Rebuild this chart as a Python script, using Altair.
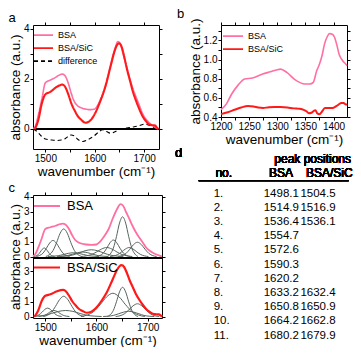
import altair as alt
import pandas as pd

FONT = "Liberation Sans"
PINK = "#ff6fa3"
RED = "#ff1a1a"
GRAY = "#56655d"

# ---------------- panel a : spectra ----------------
a_bsa_x = [1476, 1480, 1486, 1493, 1500, 1510, 1520, 1528, 1534, 1540, 1546, 1552, 1558, 1565, 1572, 1580, 1590, 1600, 1606, 1612,
           1618, 1624, 1632, 1640, 1647, 1652, 1658, 1665, 1671, 1677, 1684, 1690, 1697, 1704, 1710, 1716, 1722, 1728]
a_bsa_y = [0, 0.13, 0.57, 1.2, 1.84, 1.95, 2.05, 2.15, 2.19, 2.12, 1.85, 1.45, 1.12, 0.93, 0.85, 0.8, 0.77, 0.8, 0.95, 1.2,
           1.5, 1.85, 2.55, 3.15, 3.49, 3.38, 2.95, 2.45, 2.0, 1.62, 1.25, 0.95, 0.6, 0.38, 0.25, 0.15, 0.07, 0]
a_sic_x = [1478, 1480, 1486, 1493, 1500, 1510, 1523, 1535, 1541, 1547, 1553, 1560, 1566, 1572, 1581, 1590, 1600, 1610, 1620,
           1632, 1640, 1645, 1649, 1654, 1660, 1665, 1671, 1677, 1684, 1690, 1697, 1704, 1710, 1716, 1722, 1726, 1729]
a_sic_y = [0, 0.05, 0.38, 1.03, 1.38, 1.48, 1.68, 1.77, 1.65, 1.35, 1.0, 0.71, 0.5, 0.38, 0.25, 0.32, 0.6, 1.05, 1.6,
           2.5, 3.1, 3.35, 3.42, 3.3, 2.85, 2.4, 1.95, 1.5, 1.1, 0.8, 0.5, 0.3, 0.18, 0.15, 0.14, 0.05, 0]
a_diff_x = [1476, 1483, 1490, 1500, 1512, 1523, 1532, 1539, 1546, 1552, 1558, 1566, 1576, 1587, 1599, 1608, 1616, 1624,
            1632, 1642, 1652, 1665, 1678, 1690, 1701, 1710, 1718, 1727]
a_diff_y = [0, -0.1, -0.25, -0.4, -0.44, -0.46, -0.44, -0.4, -0.3, -0.24, -0.27, -0.42, -0.5, -0.42, -0.27, -0.12, -0.03, -0.1,
            -0.17, -0.1, 0, 0.04, 0.08, 0.13, 0.19, 0.15, 0.08, 0]

# ---------------- panel b : 1200-1425 region ----------------
b_bsa_x = [1200, 1210, 1219, 1230, 1242, 1256, 1274, 1288, 1298, 1306, 1317, 1332, 1349, 1358, 1364, 1370, 1375, 1380,
           1384, 1389, 1393, 1397, 1402, 1406, 1410, 1416, 1422, 1424]
b_bsa_y = [0.476, 0.54, 0.64, 0.73, 0.797, 0.807, 0.848, 0.872, 0.89, 0.9, 0.865, 0.787, 0.745, 0.745, 0.762, 0.88, 0.95,
           1.05, 1.16, 1.24, 1.27, 1.265, 1.23, 1.15, 1.055, 0.99, 0.95, 0.935]
b_sic_x = [1200, 1212, 1224, 1236, 1248, 1258, 1266, 1275, 1283, 1295, 1306, 1318, 1329, 1340, 1347, 1352, 1356, 1361,
           1365, 1368, 1371, 1375, 1380, 1385, 1392, 1398, 1404, 1409, 1414, 1418, 1422, 1424]
b_sic_y = [0.43, 0.45, 0.475, 0.5, 0.515, 0.51, 0.5, 0.495, 0.5, 0.505, 0.505, 0.5, 0.49, 0.485, 0.475, 0.46, 0.44, 0.445,
           0.465, 0.47, 0.44, 0.43, 0.46, 0.495, 0.495, 0.495, 0.51, 0.53, 0.545, 0.545, 0.53, 0.53]

# ---------------- panel c : fitted components ----------------
c_bsa_comp_x = [
    [1478, 1482, 1486, 1490, 1494, 1498, 1502, 1506, 1510, 1514, 1518],
    [1482.5, 1489, 1495.5, 1502, 1508.5, 1515, 1521.5, 1528, 1534.5, 1541, 1547.5],
    [1501, 1508, 1515, 1522, 1529, 1536, 1543, 1550, 1557, 1564, 1571],
    [1505, 1515, 1525, 1535, 1545, 1555, 1565, 1575, 1585, 1595, 1605],
    [1523, 1533, 1543, 1553, 1563, 1573, 1583, 1593, 1603, 1613, 1623],
    [1527.5, 1540, 1552.5, 1565, 1577.5, 1590, 1602.5, 1615, 1627.5, 1640, 1652.5],
    [1570, 1580, 1590, 1600, 1610, 1620, 1630, 1640, 1650, 1660, 1670],
    [1600.5, 1607, 1613.5, 1620, 1626.5, 1633, 1639.5, 1646, 1652.5, 1659, 1665.5],
    [1621, 1627, 1633, 1639, 1645, 1651, 1657, 1663, 1669, 1675, 1681],
    [1626.5, 1634, 1641.5, 1649, 1656.5, 1664, 1671.5, 1679, 1686.5, 1694, 1701.5],
    [1642.5, 1650, 1657.5, 1665, 1672.5, 1680, 1687.5, 1695, 1702.5, 1710, 1717.5],
]
c_bsa_comp_y = [
    [0, 0.04, 0.12, 0.29, 0.48, 0.57, 0.48, 0.29, 0.12, 0.04, 0],
    [0, 0.07, 0.22, 0.54, 0.9, 1.07, 0.9, 0.54, 0.22, 0.07, 0],
    [0, 0.12, 0.39, 0.92, 1.55, 1.84, 1.55, 0.92, 0.39, 0.12, 0],
    [0, 0.02, 0.05, 0.13, 0.21, 0.25, 0.21, 0.13, 0.05, 0.02, 0],
    [0, 0.02, 0.06, 0.15, 0.25, 0.3, 0.25, 0.15, 0.06, 0.02, 0],
    [0, 0.03, 0.09, 0.22, 0.38, 0.45, 0.38, 0.22, 0.09, 0.03, 0],
    [0, 0.04, 0.13, 0.3, 0.5, 0.6, 0.5, 0.3, 0.13, 0.04, 0],
    [0, 0.07, 0.23, 0.55, 0.92, 1.1, 0.92, 0.55, 0.23, 0.07, 0],
    [0, 0.17, 0.56, 1.32, 2.23, 2.65, 2.23, 1.32, 0.56, 0.17, 0],
    [0, 0.04, 0.13, 0.3, 0.5, 0.6, 0.5, 0.3, 0.13, 0.04, 0],
    [0, 0.06, 0.2, 0.48, 0.8, 0.95, 0.8, 0.48, 0.2, 0.06, 0],
]
c_sic_comp_x = [
    [1477, 1482.5, 1488, 1493.5, 1499, 1504.5, 1510, 1515.5, 1521, 1526.5, 1532],
    [1487, 1493, 1499, 1505, 1511, 1517, 1523, 1529, 1535, 1541, 1547],
    [1496, 1504, 1512, 1520, 1528, 1536, 1544, 1552, 1560, 1568, 1576],
    [1478, 1484, 1498, 1512, 1526, 1540, 1554, 1568, 1582, 1596, 1610],
    [1569.5, 1582, 1594.5, 1607, 1619.5, 1632, 1644.5, 1657, 1669.5, 1682, 1694.5],
    [1621, 1627, 1633, 1639, 1645, 1651, 1657, 1663, 1669, 1675, 1681],
    [1613, 1623, 1633, 1643, 1653, 1663, 1673, 1683, 1693, 1703, 1713],
    [1637.5, 1646, 1654.5, 1663, 1671.5, 1680, 1688.5, 1697, 1705.5, 1714, 1722.5],
]
c_sic_comp_y = [
    [0, 0.035, 0.12, 0.28, 0.47, 0.56, 0.47, 0.28, 0.12, 0.035, 0],
    [0, 0.025, 0.08, 0.2, 0.34, 0.4, 0.34, 0.2, 0.08, 0.025, 0],
    [0, 0.08, 0.28, 0.68, 1.13, 1.35, 1.13, 0.68, 0.28, 0.08, 0],
    [0.01, 0.025, 0.08, 0.2, 0.34, 0.4, 0.34, 0.2, 0.08, 0.025, 0],
    [0, 0.1, 0.33, 0.78, 1.3, 1.55, 1.3, 0.78, 0.33, 0.1, 0],
    [0, 0.12, 0.41, 0.98, 1.64, 1.95, 1.64, 0.98, 0.41, 0.12, 0],
    [0, 0.02, 0.07, 0.18, 0.29, 0.35, 0.29, 0.18, 0.07, 0.02, 0],
    [0, 0.05, 0.18, 0.43, 0.71, 0.85, 0.71, 0.43, 0.18, 0.05, 0],
]

# ---------------- panel d : peak table ----------------
d_no = ["1.", "2.", "3.", "4.", "5.", "6.", "7.", "8.", "9.", "10.", "11."]
d_bsa = ["1498.1", "1514.9", "1536.4", "1554.7", "1572.6", "1590.3", "1620.2", "1633.2", "1650.8", "1664.2", "1680.2"]
d_sic = ["1504.5", "1516.9", "1536.1", "", "", "", "", "1632.4", "1650.9", "1662.8", "1679.9"]

SERIES = ["BSA", "BSA/SiC", "difference"]


def frame(x, y):
    return pd.DataFrame({"x": x, "y": y})


def letter(t, dx=0):
    return alt.TitleParams(t, anchor="start", frame="bounds", fontSize=13, fontWeight="normal",
                           font=FONT, offset=-3, dx=dx)


def lab_expr(mod):
    return f"datum.value % {mod} == 0 ? datum.label : ''"


INDEP = dict(color="independent", strokeDash="independent")

# ---------------- build panel a ----------------
leg_a = alt.Legend(orient="none", legendX=0, legendY=4, title=None, labelFontSize=9, labelFont=FONT,
                   symbolType="stroke", symbolSize=361, symbolStrokeWidth=1.6, clipHeight=12.3, rowPadding=0,
                   padding=0, labelOffset=4)
xs_a = alt.Scale(domain=[1475, 1730], nice=False, zero=False)
ys_a = alt.Scale(domain=[-0.8, 4.15], nice=False, zero=False)
xt = [1500, 1550, 1600, 1650, 1700]
col_a = alt.Color("s:N", scale=alt.Scale(domain=SERIES, range=[PINK, RED, "black"]), legend=leg_a)
dash_a = alt.StrokeDash("s:N", scale=alt.Scale(domain=SERIES, range=[[1, 0], [1, 0], [4, 3]]), legend=leg_a)

a1 = alt.Chart(frame(a_bsa_x, a_bsa_y).assign(s="BSA")).mark_line(interpolate="monotone", strokeWidth=1.6).encode(
    x=alt.X("x:Q", scale=xs_a, axis=alt.Axis(orient="bottom", values=xt, format="d", labelExpr=lab_expr(100),
                                              title="wavenumber (cm⁻¹)")),
    y=alt.Y("y:Q", scale=ys_a, axis=alt.Axis(orient="left", values=[0, 1, 2, 3, 4], format="d",
                                              labelExpr=lab_expr(2), title="absorbance (a.u.)")),
    color=col_a, strokeDash=dash_a,
)
a1b = alt.Chart(frame(a_sic_x, a_sic_y).assign(s="BSA/SiC")).mark_line(interpolate="monotone", strokeWidth=2.1).encode(
    x=alt.X("x:Q", scale=xs_a, axis=None), y=alt.Y("y:Q", scale=ys_a, axis=None),
    color=col_a, strokeDash=dash_a,
)
a2 = alt.Chart(frame(a_diff_x, a_diff_y).assign(s="difference")).mark_line(interpolate="monotone", strokeWidth=1.1).encode(
    x=alt.X("x:Q", scale=xs_a, axis=alt.Axis(orient="top", values=xt, labels=False, title=None)),
    y=alt.Y("y:Q", scale=ys_a, axis=alt.Axis(orient="right", values=[0, 1, 2, 3, 4], labels=False, title=None)),
    color=col_a, strokeDash=dash_a,
)
a3 = alt.Chart(frame(a_diff_x, a_diff_y)).mark_rule(color="black", strokeWidth=1).encode(
    y=alt.Y(datum=0, type="quantitative", scale=ys_a, axis=None))
panel_a = alt.layer(a3, a2, a1, a1b).resolve_axis(x="independent", y="independent").properties(
    width=126, height=124, title=letter("a"))

# ---------------- build panel b ----------------
leg_b = alt.Legend(orient="none", legendX=1, legendY=5, title=None, labelFontSize=9, labelFont=FONT,
                   symbolType="stroke", symbolSize=400, symbolStrokeWidth=1.8, clipHeight=12.3, rowPadding=0,
                   padding=0, labelOffset=4)
xs_b = alt.Scale(domain=[1200, 1424], nice=False, zero=False)
ys_b = alt.Scale(domain=[0.4, 1.36], nice=False, zero=False)
xt_b = [1200, 1225, 1250, 1275, 1300, 1325, 1350, 1375, 1400]
yt_b = [0.4, 0.5, 0.6, 0.7, 0.8, 0.9, 1.0, 1.1, 1.2, 1.3]
col_b = alt.Color("s:N", scale=alt.Scale(domain=SERIES[:2], range=[PINK, RED]), legend=leg_b)
b1 = alt.Chart(frame(b_bsa_x, b_bsa_y).assign(s="BSA")).mark_line(interpolate="monotone", strokeWidth=1.6).encode(
    x=alt.X("x:Q", scale=xs_b, axis=alt.Axis(orient="bottom", values=xt_b, format="d", labelExpr=lab_expr(50),
                                              title="wavenumber (cm⁻¹)")),
    y=alt.Y("y:Q", scale=ys_b, axis=alt.Axis(orient="left", values=yt_b,
                                              labelExpr="round(datum.value*10) % 2 == 0 ? format(datum.value, '.1f') : ''",
                                              title="absorbance (a.u.)")),
    color=col_b,
)
b2 = alt.Chart(frame(b_sic_x, b_sic_y).assign(s="BSA/SiC")).mark_line(interpolate="monotone", strokeWidth=2.0).encode(
    x=alt.X("x:Q", scale=xs_b, axis=alt.Axis(orient="top", values=xt_b, labels=False, title=None)),
    y=alt.Y("y:Q", scale=ys_b, axis=alt.Axis(orient="right", values=yt_b, labels=False, title=None)),
    color=col_b,
)
panel_b = alt.layer(b1, b2).resolve_axis(x="independent", y="independent").properties(
    width=126, height=92, title=letter("b", dx=-11))

# ---------------- build panel c ----------------
comp_u = pd.concat([frame(x, y).assign(k=i) for i, (x, y) in enumerate(zip(c_bsa_comp_x, c_bsa_comp_y))])
comp_l = pd.concat([frame(x, y).assign(k=i) for i, (x, y) in enumerate(zip(c_sic_comp_x, c_sic_comp_y))])
env_u = frame(a_bsa_x, a_bsa_y).assign(s="BSA")
env_l = frame(a_sic_x, a_sic_y).assign(s="BSA/SiC")

xs_c = alt.Scale(domain=[1476, 1728], nice=False, zero=False)
ys_c = alt.Scale(domain=[-0.1, 8.1], nice=False, zero=False)
yt_c = [0, 1, 2, 3, 4, 5, 6, 7, 8]


def leg_c(y):
    return alt.Legend(orient="none", legendX=0, legendY=y, title=None, labelFontSize=13, labelFont=FONT,
                      symbolType="stroke", symbolSize=676, symbolStrokeWidth=2, clipHeight=14, rowPadding=0,
                      padding=0, labelOffset=6)


c_cu = alt.Chart(comp_u).mark_line(interpolate="monotone", color=GRAY, strokeWidth=1).transform_calculate(
    yy="datum.y + 4").encode(x=alt.X("x:Q", scale=xs_c, axis=None), y=alt.Y("yy:Q", scale=ys_c, axis=None),
                             detail="k:N")
c_cl = alt.Chart(comp_l).mark_line(interpolate="monotone", color=GRAY, strokeWidth=1).encode(
    x=alt.X("x:Q", scale=xs_c, axis=None), y=alt.Y("y:Q", scale=ys_c, axis=None), detail="k:N")
c_eu = alt.Chart(env_u).mark_line(interpolate="monotone", strokeWidth=1.8).transform_calculate(
    yy="datum.y + 4").encode(
    x=alt.X("x:Q", scale=xs_c, axis=alt.Axis(orient="bottom", values=xt, format="d", labelExpr=lab_expr(100),
                                              title="wavenumber (cm⁻¹)")),
    y=alt.Y("yy:Q", scale=ys_c, axis=alt.Axis(orient="left", values=yt_c,
                                               labelExpr="datum.value >= 4 ? datum.value - 4 : datum.value",
                                               title="absorbance (a.u.)")),
    color=alt.Color("s:N", scale=alt.Scale(domain=["BSA"], range=[PINK]), legend=leg_c(4)),
)
c_el = alt.Chart(env_l).mark_line(interpolate="monotone", strokeWidth=2.2).encode(
    x=alt.X("x:Q", scale=xs_c, axis=alt.Axis(orient="top", values=xt, labels=False, title=None)),
    y=alt.Y("y:Q", scale=ys_c, axis=alt.Axis(orient="right", values=yt_c, labels=False, title=None)),
    color=alt.Color("s:N", scale=alt.Scale(domain=["BSA/SiC"], range=[RED]), legend=leg_c(65.5)),
)
c_div = alt.Chart(env_l).mark_rule(color="black", strokeWidth=1).encode(
    y=alt.Y(datum=3.9, type="quantitative", scale=ys_c, axis=None))
panel_c = alt.layer(c_cu, c_cl, c_div, c_eu, c_el).resolve_axis(x="independent", y="independent").resolve_scale(
    color="independent").properties(width=129, height=123, title=letter("c"))

# ---------------- build panel d (origin aligned with panel b's plot area) ----------------
SH = -3
df_d = pd.DataFrame({"r": list(range(1, 12)), "no": d_no, "bsa": d_bsa, "sic": d_sic})
ys_d = alt.Scale(domain=[1, 11], range=[50.5, 192.5])
txt = dict(font=FONT, fontSize=11.5, align="left", baseline="alphabetic", color="black")
d_no_t = alt.Chart(df_d).mark_text(**txt).encode(x=alt.value(-4.3 + SH), y=alt.Y("r:Q", scale=ys_d, axis=None), text="no:N")
d_bsa_t = alt.Chart(df_d).mark_text(**txt).encode(x=alt.value(45.7 + SH), y=alt.Y("r:Q", scale=ys_d, axis=None), text="bsa:N")
d_sic_t = alt.Chart(df_d).mark_text(**txt).encode(x=alt.value(82.4 + SH), y=alt.Y("r:Q", scale=ys_d, axis=None), text="sic:N")
hdr = dict(font=FONT, fontSize=12, baseline="alphabetic", color="black")
d_letter = alt.Chart(df_d).mark_text(text="d", align="left", font=FONT, fontSize=13, baseline="alphabetic").encode(
    x=alt.value(-46), y=alt.value(11))
d_pp = alt.Chart(df_d).mark_text(text="peak positions", align="right", **hdr).encode(x=alt.value(133 + SH), y=alt.value(17))
d_h1 = alt.Chart(df_d).mark_text(text="no.", align="left", **hdr).encode(x=alt.value(-2.6 + SH), y=alt.value(30.5))
d_h2 = alt.Chart(df_d).mark_text(text="BSA", align="center", **hdr).encode(x=alt.value(63 + SH), y=alt.value(30.5))
d_h3 = alt.Chart(df_d).mark_text(text="BSA/SiC", align="left", **hdr).encode(x=alt.value(88 + SH), y=alt.value(30.5))
d_line = alt.Chart(df_d).mark_rule(color="black", strokeWidth=1).encode(
    x=alt.value(-19.3 + SH), x2=alt.value(130.7 + SH), y=alt.value(34.7))
panel_d = alt.layer(d_letter, d_pp, d_h1, d_h2, d_h3, d_line, d_no_t, d_bsa_t, d_sic_t).properties(
    width=126, height=196)

left = alt.vconcat(panel_a, panel_c, spacing=3).resolve_scale(**INDEP).resolve_legend(**INDEP)
right = alt.vconcat(panel_b, panel_d, spacing=-3).resolve_scale(**INDEP).resolve_legend(**INDEP)
chart = alt.hconcat(left, right, spacing=8).resolve_scale(**INDEP).resolve_legend(**INDEP).properties(
    padding=0).configure(font=FONT).configure_view(stroke=None).configure_axis(
    labelFont=FONT, titleFont=FONT, labelFontSize=10, titleFontSize=13.5, titleFontWeight="normal",
    labelColor="black", titleColor="black", tickColor="black", domainColor="black", tickSize=3,
    grid=False, labelFlush=False, labelOverlap=False, labelPadding=1, titlePadding=1,
).configure_title(font=FONT, color="black")

chart.save("out.html", embed_options={"renderer": "svg", "actions": False})
